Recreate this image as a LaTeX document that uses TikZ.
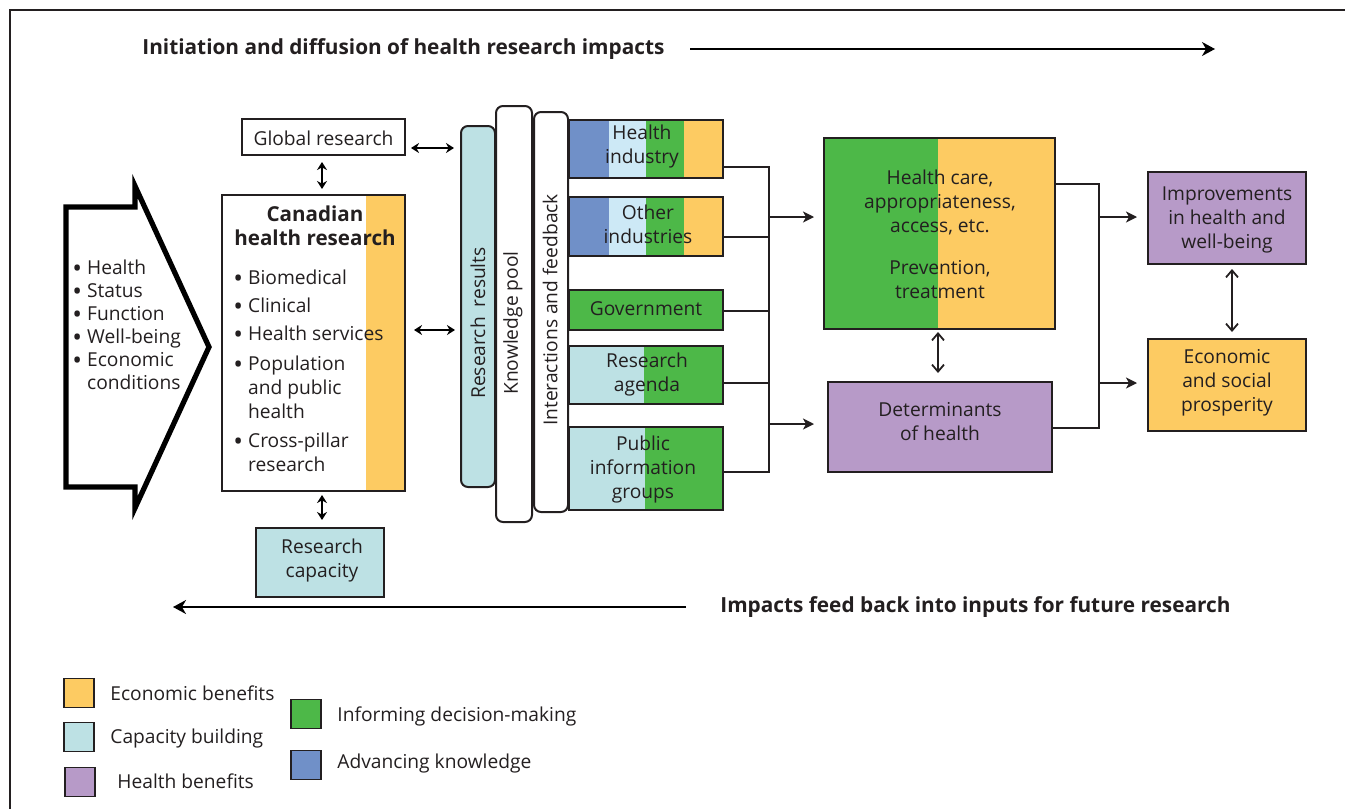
\documentclass[tikz,border=0pt]{standalone}
\usepackage{fontspec}
\setmainfont{Open Sans}
\usetikzlibrary{arrows.meta,fit,calc}
\definecolor{corange}{HTML}{FDCB62}
\definecolor{cgreen}{HTML}{4DB848}
\definecolor{cblue}{HTML}{7090C8}
\definecolor{clblue}{HTML}{CDE9F6}
\definecolor{ccyan}{HTML}{BDE1E4}
\definecolor{cpurple}{HTML}{B79AC8}
\definecolor{tgray}{HTML}{231F20}
\newcommand\mybul{\raisebox{-0.12em}{\scalebox{1.35}{\textbullet}}\ }
\newcommand\mynob{\phantom{\mybul}}
\begin{document}
\begin{tikzpicture}[x=0.5pt,y=-0.5pt,
  box/.style={draw=tgray, line width=1pt, inner sep=0pt},
  txt/.style={font=\fontsize{9.6}{12}\selectfont, text=tgray, align=center, inner sep=0pt},
  btitle/.style={font=\bfseries\fontsize{10.4}{12}\selectfont, text=tgray, inner sep=0pt},
  bar/.style={draw=tgray, line width=1pt, rounded corners=3.5pt, inner sep=0pt},
  conn/.style={draw=tgray, line width=0.9pt},
  harrow/.style={draw=tgray, line width=0.8pt, -{Stealth[length=5.5pt,width=5.5pt,inset=1.5pt]}},
  dblsolid/.style={draw=black, line width=1pt, {Stealth[length=4pt,width=5pt]}-{Stealth[length=4pt,width=5pt]}},
  dblopen/.style={draw=tgray, line width=0.9pt, {Straight Barb[length=3.5pt,width=6pt]}-{Straight Barb[length=3.5pt,width=6pt]}},
  legsq/.style={draw=tgray, line width=0.9pt, minimum width=15pt, minimum height=14.5pt, inner sep=0pt},
  legtxt/.style={font=\fontsize{9.6}{12}\selectfont, text=tgray, anchor=west, inner sep=0pt}
]
\useasboundingbox (0,0) rectangle (1345,809);
% frame
\draw[line width=0.9pt, tgray] (1345,10) -- (10,10) -- (10,809);

% titles and long arrows
\node[btitle, anchor=west] (ttop) at (142,49) {Initiation and diffusion of health research impacts};
\coordinate (topS) at (690,49);
\coordinate (topE) at (1215,49);
\draw[line width=0.7pt, -{Stealth[length=6.5pt,width=7pt,inset=2pt]}] (topS) -- (topE);
\node[btitle, anchor=east] (tbot) at (1231,607) {Impacts feed back into inputs for future research};
\coordinate (botS) at (686,607);
\coordinate (botE) at (173,607);
\draw[line width=0.7pt, -{Stealth[length=6.5pt,width=7pt,inset=2pt]}] (botS) -- (botE);

% left chevron
\draw[line width=2.6pt, line join=miter, black] (66,207) -- (135,207) -- (135,186) -- (209,347) -- (135,508) -- (135,487) -- (66,487) -- cycle;
\node[txt, align=left, anchor=north west, font=\fontsize{9.6}{11.5}\selectfont] (status) at (72,260)
 {\mybul Health\\\mybul Status\\\mybul Function\\\mybul Well-being\\\mybul Economic\\\mynob conditions};

% Canadian health research
\fill[corange] (366,195) rectangle (405,491);
\node[box, fit={(222,195)(405,491)}] (canadian) {};
\node[btitle, align=center, font=\bfseries\fontsize{10.3}{12}\selectfont] (cantitle) at (315,226) {Canadian\\health research};
\node[txt, align=left, anchor=north west] (canlist) at (233,270)
 {\mybul Biomedical\\[2pt]\mybul Clinical\\[2pt]\mybul Health services\\[3pt]\mybul Population\\\mynob and public\\\mynob health\\[2.5pt]\mybul Cross-pillar\\\mynob research};

% global research and capacity
\node[box, fit={(242,119)(405,155)}] (global) {};
\node[txt] (globalT) at ($(global.center)+(0,1)$) {Global research};
\node[box, fill=ccyan, fit={(256,528)(384,597)}] (capacity) {};
\node[txt] (capacityT) at ($(capacity.center)+(2,-2)$) {Research\\capacity};
\coordinate (xc) at (322,0);
\draw[dblsolid, shorten <=3pt, shorten >=2.5pt] (global.south -| xc) -- (canadian.north -| xc);
\draw[dblsolid, shorten <=1.5pt, shorten >=3.5pt] (canadian.south -| xc) -- (capacity.north -| xc);

% vertical bars
\node[bar, fill=ccyan, fit={(461,126)(495,487)}] (results) {};
\node[bar, fill=white, fit={(496,106)(532,522)}] (pool) {};
\node[bar, fill=white, fit={(534,112)(568,512)}] (interact) {};
\node[txt, rotate=90] (resultsT) at (478,323) {Research\ \ results};
\node[txt, rotate=90] (poolT) at (513,323) {Knowledge pool};
\node[txt, rotate=90] (interactT) at (550,310) {Interactions and feedback};

\coordinate (y148) at (0,148);
\coordinate (y330) at (0,330);
\draw[dblsolid, shorten <=2.5pt, shorten >=3pt] (global.east |- y148) -- (results.west |- y148);
\draw[dblsolid, shorten <=4pt, shorten >=2.5pt] (canadian.east |- y330) -- (results.west |- y330);

% sector boxes
\fill[cblue] (569,120) rectangle (609,178);
\fill[clblue] (609,120) rectangle (646,178);
\fill[cgreen] (646,120) rectangle (684,178);
\fill[corange] (684,120) rectangle (723,178);
\node[box, fit={(569,120)(723,178)}] (hind) {};
\node[txt] (hindT) at ($(hind.center)+(-4,-2)$) {Health\\industry};
\fill[cblue] (569,197) rectangle (609,256);
\fill[clblue] (609,197) rectangle (646,256);
\fill[cgreen] (646,197) rectangle (684,256);
\fill[corange] (684,197) rectangle (723,256);
\node[box, fit={(569,197)(723,256)}] (oind) {};
\node[txt] (oindT) at ($(oind.center)+(2,-2)$) {Other\\industries};
\node[box, fill=cgreen, fit={(569,290)(723,330)}] (gov) {};
\node[txt] (govT) at ($(gov.center)+(0,-1)$) {Government};
\fill[ccyan] (569,346) rectangle (644,404);
\fill[cgreen] (644,346) rectangle (723,404);
\node[box, fit={(569,346)(723,404)}] (agenda) {};
\node[txt] (agendaT) at ($(agenda.center)+(1,0)$) {Research\\agenda};
\fill[ccyan] (569,427) rectangle (645,510);
\fill[cgreen] (645,427) rectangle (723,510);
\node[box, fit={(569,427)(723,510)}] (public) {};
\node[txt] (publicT) at ($(public.center)+(-3,1)$) {Public\\information\\groups};

% outcome boxes
\fill[cgreen] (824,138) rectangle (938,329);
\fill[corange] (938,138) rectangle (1055,329);
\node[box, fit={(824,138)(1055,329)}] (care) {};
\node[txt] (careT) at (940,234) {Health care,\\appropriateness,\\access, etc.\\[9pt]Prevention,\\treatment};
\node[box, fill=cpurple, fit={(828,382)(1052,472)}] (determ) {};
\node[txt] (determT) at ($(determ.center)+(0,-5)$) {Determinants\\of health};
\node[box, fill=cpurple, fit={(1148,172)(1306,264)}] (improve) {};
\node[txt] (improveT) at ($(improve.center)+(0,2)$) {Improvements\\in health and\\well-being};
\node[box, fill=corange, fit={(1148,339)(1306,431)}] (econ) {};
\node[txt] (econT) at ($(econ.center)+(0,-2)$) {Economic\\and social\\prosperity};

% bus from sectors
\coordinate (bus) at (769,0);
\coordinate (y167) at (0,167);
\coordinate (y237) at (0,237);
\coordinate (y311) at (0,311);
\coordinate (y383) at (0,383);
\coordinate (y472) at (0,472);
\coordinate (y217) at (0,217);
\coordinate (y424) at (0,424);
\draw[conn] (hind.east |- y167) -- (bus |- y167) -- (bus |- y472) -- (public.east |- y472);
\draw[conn] (oind.east |- y237) -- (bus |- y237);
\draw[conn] (gov.east |- y311) -- (bus |- y311);
\draw[conn] (agenda.east |- y383) -- (bus |- y383);
\draw[harrow, shorten >=4.5pt] (bus |- y217) -- (care.west |- y217);
\draw[harrow, shorten >=6.5pt] (bus |- y424) -- (determ.west |- y424);

\coordinate (xcd) at (938,0);
\draw[dblopen, shorten <=1pt, shorten >=4pt] (care.south -| xcd) -- (determ.north -| xcd);

% right bus
\coordinate (rbus) at (1099,0);
\coordinate (y184) at (0,184);
\coordinate (y428) at (0,428);
\draw[conn] (care.east |- y184) -- (rbus |- y184) -- (rbus |- y428) -- (determ.east |- y428);
\draw[harrow, shorten >=5pt] (rbus |- y217) -- (improve.west |- y217);
\draw[harrow, shorten >=5pt] (rbus |- y383) -- (econ.west |- y383);
\coordinate (xie) at (1232,0);
\draw[dblopen, shorten <=2pt, shorten >=3pt] (improve.south -| xie) -- (econ.north -| xie);

% legend
\node[legsq, fill=corange] (lg1) at (79,693) {};
\node[legtxt] (lg1T) at (110,693) {Economic benefits};
\node[legsq, fill=ccyan] (lg2) at (79,737) {};
\node[legtxt] (lg2T) at (110,739) {Capacity building};
\node[legsq, fill=cpurple] (lg3) at (80,782) {};
\node[legtxt] (lg3T) at (117,781) {Health benefits};
\node[legsq, fill=cgreen] (lg4) at (306,714) {};
\node[legtxt] (lg4T) at (337,716) {Informing decision-making};
\node[legsq, fill=cblue] (lg5) at (306,765) {};
\node[legtxt] (lg5T) at (337,764) {Advancing knowledge};
\end{tikzpicture}
\end{document}
